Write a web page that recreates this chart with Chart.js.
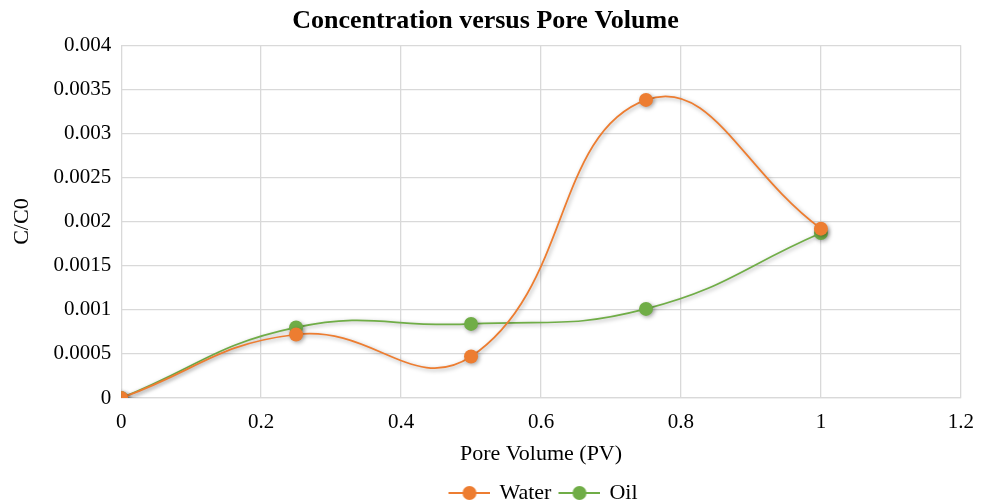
<!DOCTYPE html>
<html>
<head>
<meta charset="utf-8">
<script src="https://cdn.jsdelivr.net/npm/chart.js@4"></script>
<style>
html,body{margin:0;padding:0;background:#fff;}
#wrap{width:988px;height:502px;}
</style>
</head>
<body>
<div id="wrap"><canvas id="c" width="988" height="502"></canvas></div>
<script>
const poreVolume = [0, 0.25, 0.5, 0.75, 1];
const water = [0, 0.00072, 0.00047, 0.00338, 0.00192];
const oil = [0, 0.0008, 0.00084, 0.00101, 0.00187];
const xTicks = [0, 0.2, 0.4, 0.6, 0.8, 1, 1.2];
const yTicks = [0, 0.0005, 0.001, 0.0015, 0.002, 0.0025, 0.003, 0.0035, 0.004];

const ORANGE = '#ED7D31';
const GREEN = '#70AD47';
const FONT = '"Liberation Serif", "Times New Roman", serif';

function legendIcon(color) {
  const c = document.createElement('canvas');
  c.width = 48; c.height = 16;
  const g = c.getContext('2d');
  g.strokeStyle = color; g.lineWidth = 2;
  g.beginPath(); g.moveTo(6, 8); g.lineTo(48, 8); g.stroke();
  g.fillStyle = color;
  g.beginPath(); g.arc(27, 8, 7, 0, Math.PI * 2); g.fill();
  return c;
}

const toPts = (ys) => poreVolume.map((x, i) => ({x: x, y: ys[i]}));

const shadowPlugin = {
  id: 'shadow',
  beforeDatasetsDraw(chart) {
    const ctx = chart.ctx;
    ctx.save();
    ctx.shadowColor = 'rgba(0,0,0,0.35)';
    ctx.shadowBlur = 4;
    ctx.shadowOffsetX = 1.5;
    ctx.shadowOffsetY = 1.5;
  },
  afterDatasetsDraw(chart) {
    chart.ctx.restore();
  }
};

new Chart(document.getElementById('c'), {
  type: 'line',
  data: {
    datasets: [
      {
        label: 'Water',
        data: toPts(water),
        borderColor: ORANGE,
        backgroundColor: ORANGE,
        borderWidth: 1.75,
        pointRadius: 7,
        pointHoverRadius: 7,
        pointBorderWidth: 0,
        tension: 0.45,
        fill: false,
        pointStyle: 'circle'
      },
      {
        label: 'Oil',
        data: toPts(oil),
        borderColor: GREEN,
        backgroundColor: GREEN,
        borderWidth: 1.75,
        pointRadius: 7,
        pointHoverRadius: 7,
        pointBorderWidth: 0,
        tension: 0.45,
        fill: false,
        pointStyle: 'circle'
      }
    ]
  },
  plugins: [shadowPlugin],
  options: {
    responsive: false,
    animation: false,
    devicePixelRatio: 1,
    layout: {padding: {left: 9, right: 26, top: 2, bottom: -12}},
    plugins: {
      title: {
        display: true,
        text: 'Concentration versus Pore Volume',
        color: '#000',
        font: {family: FONT, size: 26, weight: 'bold'},
        padding: {top: 4, bottom: 8}
      },
      legend: {
        position: 'bottom',
        fullSize: false,
        labels: {
          color: '#000',
          font: {family: FONT, size: 22},
          usePointStyle: true,
          pointStyleWidth: 44,
          padding: 3,
          generateLabels(chart) {
            return chart.data.datasets.map((ds, i) => ({
              text: ds.label,
              fillStyle: ds.borderColor,
              strokeStyle: ds.borderColor,
              pointStyle: legendIcon(ds.borderColor),
              datasetIndex: i,
              hidden: false,
              lineWidth: 0,
              fontColor: '#000'
            }));
          }
        }
      },
      tooltip: {enabled: false}
    },
    scales: {
      x: {
        type: 'linear',
        min: 0,
        max: 1.2,
        afterBuildTicks(axis) { axis.ticks = xTicks.map(v => ({value: v})); },
        ticks: {
          color: '#000',
          font: {family: FONT, size: 21, lineHeight: 1.0},
          padding: 14,
          maxRotation: 0,
          callback: (v) => String(+v.toFixed(2))
        },
        grid: {color: '#D9D9D9', lineWidth: 1.3, drawTicks: false},
        border: {color: '#D9D9D9', width: 1.3},
        title: {
          display: true,
          text: 'Pore Volume (PV)',
          color: '#000',
          font: {family: FONT, size: 22, lineHeight: 1.0},
          padding: {top: -4, bottom: 14}
        }
      },
      y: {
        type: 'linear',
        min: 0,
        max: 0.004,
        afterBuildTicks(axis) { axis.ticks = yTicks.map(v => ({value: v})); },
        ticks: {
          color: '#000',
          font: {family: FONT, size: 21},
          padding: 10,
          callback: (v) => String(+v.toFixed(4))
        },
        grid: {color: '#D9D9D9', lineWidth: 1.3, drawTicks: false},
        border: {display: false},
        title: {
          display: true,
          text: 'C/C0',
          color: '#000',
          font: {family: FONT, size: 22},
          padding: {top: 0, bottom: 8}
        }
      }
    }
  }
});
</script>
</body>
</html>
